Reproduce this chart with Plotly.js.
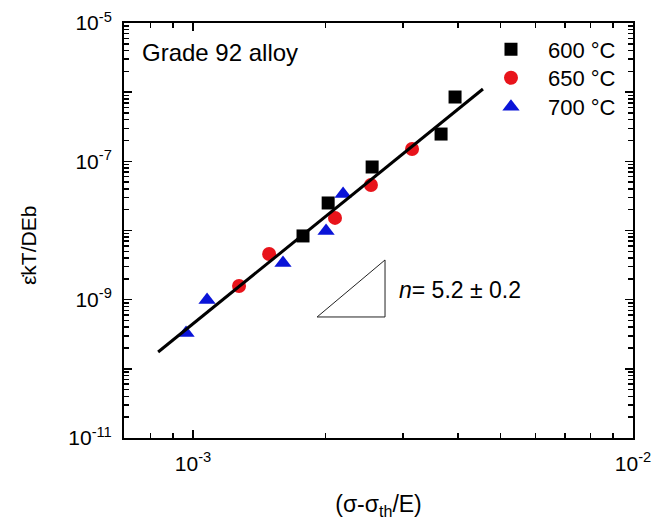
<!DOCTYPE html>
<html>
<head>
<meta charset="utf-8">
<script src="https://cdn.plot.ly/plotly-3.0.1.min.js"></script>
<style>
  html, body { margin: 0; padding: 0; background: #ffffff; }
  #chart { width: 654px; height: 520px; }
</style>
</head>
<body>
<div id="chart"></div>
<script>
// Normalised stress (σ-σth)/E and normalised creep rate ε̇kT/DEb per test temperature
const stress600 = [1.778e-3, 2.028e-3, 2.553e-3, 3.662e-3, 3.94e-3];
const rate600   = [8.34e-9, 2.50e-8, 8.28e-8, 2.48e-7, 8.51e-7];
const stress650 = [1.272e-3, 1.489e-3, 2.102e-3, 2.537e-3, 3.146e-3];
const rate650   = [1.58e-9, 4.57e-9, 1.52e-8, 4.55e-8, 1.51e-7];
const stress700 = [9.64e-4, 1.076e-3, 1.601e-3, 2.006e-3, 2.193e-3];
const rate700   = [3.30e-10, 9.89e-10, 3.39e-9, 9.84e-9, 3.37e-8];
const seriesNames = ['600 °C', '650 °C', '700 °C'];

// Power-law fit through all temperatures
const fitStress = [8.33e-4, 4.56e-3];
const fitRate   = [1.75e-10, 1.11e-6];

// Slope guide triangle
const slopeStress = [1.914e-3, 2.731e-3, 2.731e-3, 1.914e-3];
const slopeRate   = [5.62e-10, 5.62e-10, 3.75e-9, 5.62e-10];
const exponentLabel = '<i>n</i>= 5.2 ± 0.2';
const alloyLabel = 'Grade 92 alloy';
const xTitle = '(σ-σ<sub>th</sub>/E)';
const yTitle = 'ε̇kT/DEb';

// Axis ticks
const xTickVals = [1e-3, 1e-2];
const xTickText = ['10<sup>-3</sup>', '10<sup>-2</sup>'];
const yTickVals = [1e-11, 1e-10, 1e-9, 1e-8, 1e-7, 1e-6, 1e-5];
const yTickText = ['10<sup>-11</sup>', '', '10<sup>-9</sup>', '', '10<sup>-7</sup>', '', '10<sup>-5</sup>'];

function minorTicks(loExp, hiExp) {
  const vals = [];
  for (let e = loExp; e < hiExp; e++) {
    for (let m = 2; m <= 9; m++) vals.push(m * Math.pow(10, e));
  }
  return vals;
}
const xMinor = [8e-4, 9e-4].concat(minorTicks(-3, -2));
const yMinor = minorTicks(-11, -5);

const FONT = 'Liberation Sans, Arial, sans-serif';

const traces = [
  { x: stress600, y: rate600, name: seriesNames[0], legend: 'legend', mode: 'markers', type: 'scatter',
    marker: { symbol: 'square', size: 13, color: '#000000' } },
  { x: stress650, y: rate650, name: seriesNames[1], legend: 'legend2', mode: 'markers', type: 'scatter',
    marker: { symbol: 'circle', size: 14, color: '#e8141b' } },
  { x: stress700, y: rate700, name: seriesNames[2], legend: 'legend3', mode: 'markers', type: 'scatter',
    marker: { symbol: 'triangle-up', size: 15, color: '#0a14d8' } },
  { x: fitStress, y: fitRate, mode: 'lines', type: 'scatter', showlegend: false,
    line: { color: '#000000', width: 3 }, hoverinfo: 'skip' },
  { x: slopeStress, y: slopeRate, mode: 'lines', type: 'scatter', showlegend: false,
    line: { color: '#222222', width: 1 }, hoverinfo: 'skip' }
];

const axisCommon = {
  type: 'log',
  showgrid: false,
  zeroline: false,
  showline: true,
  linecolor: '#000000',
  linewidth: 2,
  mirror: 'ticks',
  ticks: 'inside',
  ticklen: 8,
  tickwidth: 1.5,
  tickcolor: '#000000',
  tickfont: { family: FONT, size: 21, color: '#000000' }
};

function legendAt(yPos) {
  return {
    x: 0.6876, y: yPos, xanchor: 'left', yanchor: 'middle',
    bgcolor: 'rgba(0,0,0,0)',
    font: { family: FONT, size: 22, color: '#000000' },
    itemwidth: 64
  };
}

const layout = {
  width: 654,
  height: 520,
  margin: { l: 124, r: 21, t: 23, b: 82 },
  paper_bgcolor: '#ffffff',
  plot_bgcolor: '#ffffff',
  font: { family: FONT, color: '#000000' },
  xaxis: Object.assign({}, axisCommon, {
    range: [-3.157, -2],
    tickmode: 'array',
    tickvals: xTickVals,
    ticktext: xTickText,
    ticklabelstandoff: 6,
    minor: { tickmode: 'array', tickvals: xMinor, ticks: 'inside', ticklen: 5, tickwidth: 1.5, tickcolor: '#000000', showgrid: false },
    title: { text: xTitle, font: { family: FONT, size: 23, color: '#000000' }, standoff: 22 }
  }),
  yaxis: Object.assign({}, axisCommon, {
    range: [-11, -5],
    tickmode: 'array',
    tickvals: yTickVals,
    ticktext: yTickText,
    ticklabelstandoff: 6,
    minor: { tickmode: 'array', tickvals: yMinor, ticks: 'inside', ticklen: 5, tickwidth: 1.5, tickcolor: '#000000', showgrid: false }
  }),
  legend: legendAt(0.9360),
  legend2: legendAt(0.8675),
  legend3: legendAt(0.7980),
  annotations: [
    { xref: 'paper', yref: 'paper', x: -0.1866, y: 0.4627, xanchor: 'center', yanchor: 'middle',
      textangle: -90, text: yTitle, showarrow: false, font: { family: FONT, size: 21, color: '#000000' } },
    { xref: 'paper', yref: 'paper', x: 0.031, y: 0.930, xanchor: 'left', yanchor: 'middle',
      text: alloyLabel, showarrow: false, font: { family: FONT, size: 24, color: '#000000' } },
    { xref: 'x', yref: 'y', x: Math.log10(2.907e-3), y: Math.log10(1.38e-9), xanchor: 'left', yanchor: 'middle',
      text: exponentLabel, showarrow: false, font: { family: FONT, size: 23, color: '#000000' } }
  ],
  showlegend: true
};

Plotly.newPlot('chart', traces, layout, { displayModeBar: false, staticPlot: true });
</script>
</body>
</html>
